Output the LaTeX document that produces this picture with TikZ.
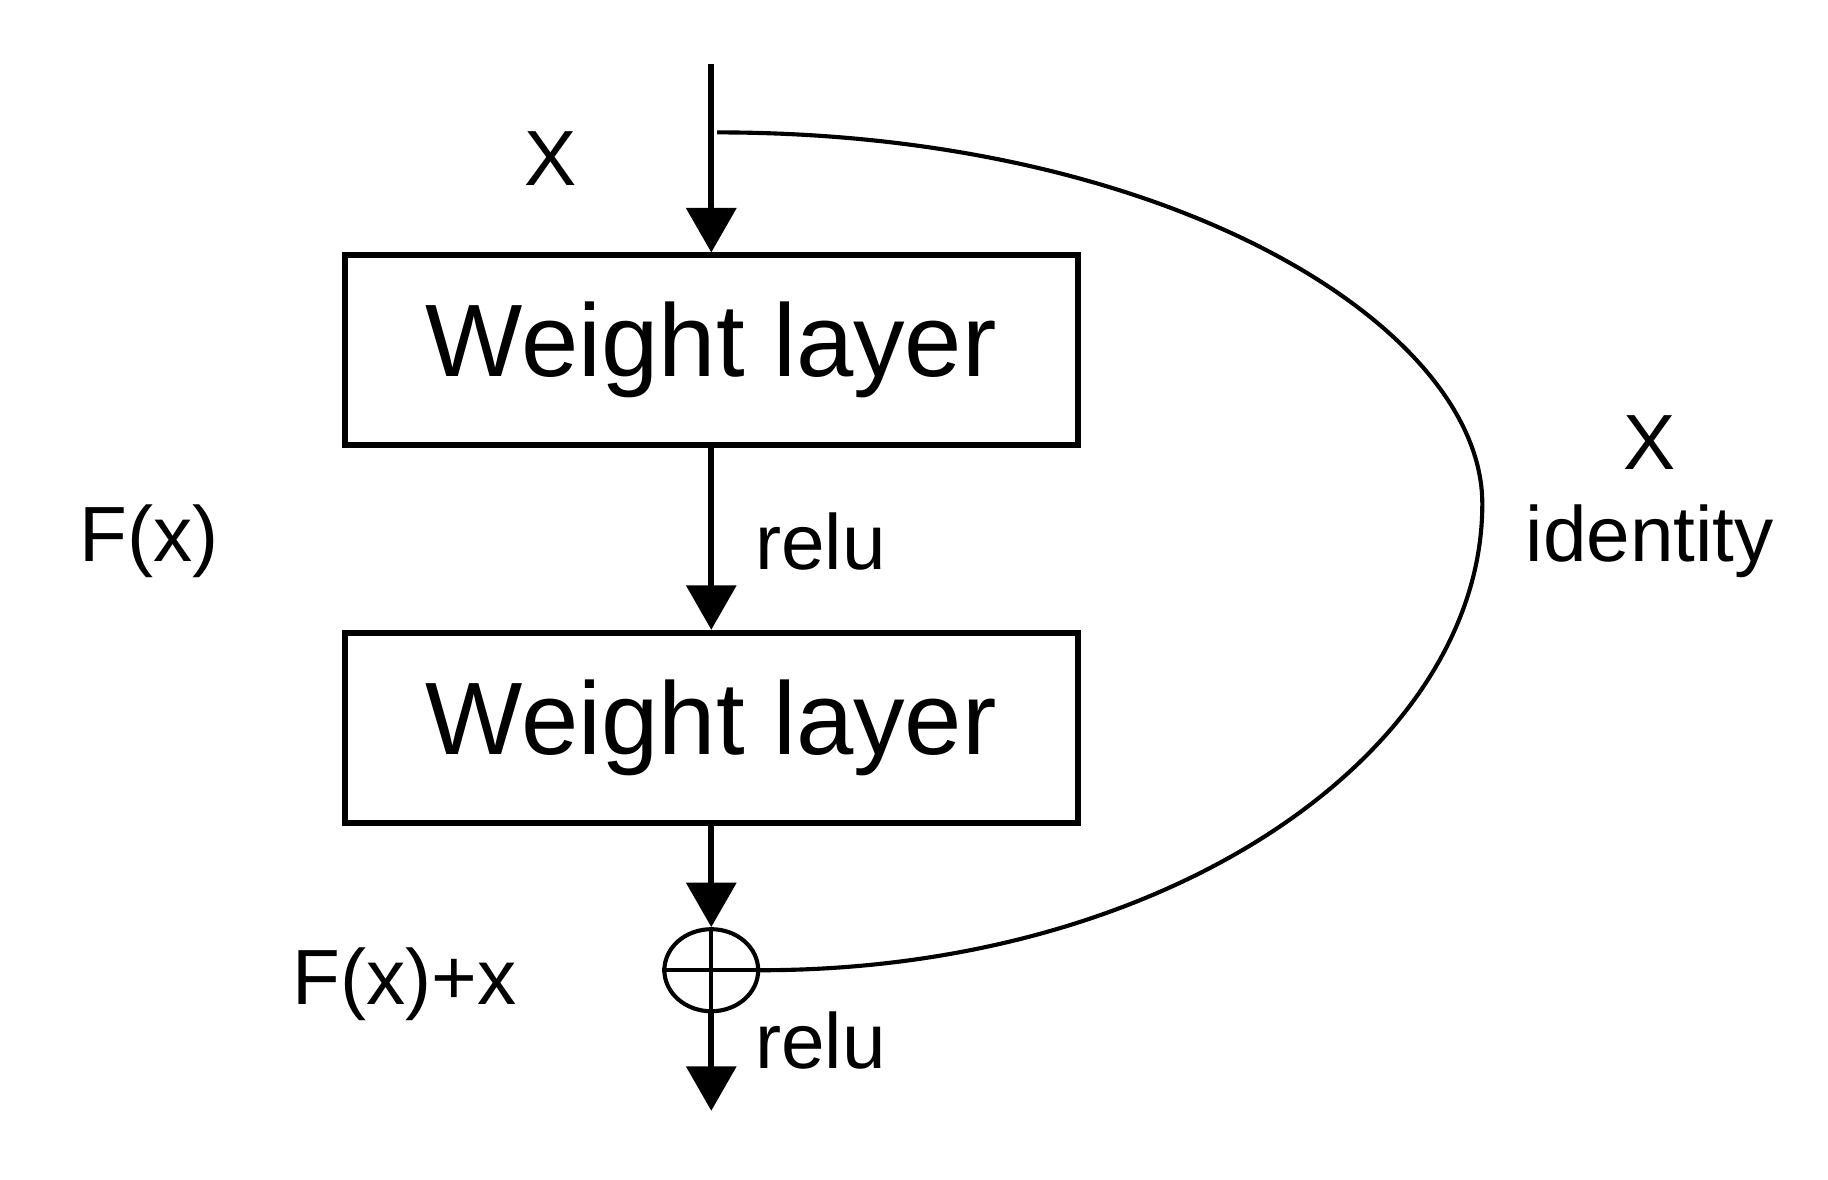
\documentclass[tikz,border=0pt]{standalone}
\usepackage{fontspec}
\setmainfont{Liberation Sans}
\usetikzlibrary{shapes.geometric, arrows.meta, positioning}

\begin{document}
\begin{tikzpicture}[
    x=0.01cm, y=-0.01cm,
    layer/.style={rectangle, draw, line width=1.4pt, minimum width=6.25cm,
                  minimum height=1.62cm, font=\fontsize{25}{28}\selectfont},
    lbl/.style={font=\fontsize{19}{22}\selectfont},
    flow/.style={line width=1.5pt, -{Triangle[length=0.38cm, width=0.42cm]}},
]
\useasboundingbox (0,0) rectangle (1560,1007);

% Main path
\coordinate (top) at (607,55);
\node[layer] (w1) at (607,299) {Weight layer};
\node[layer] (w2) at (607,621) {Weight layer};
\node[ellipse, draw, line width=1pt, minimum width=0.8cm, minimum height=0.7cm,
      inner sep=0pt] (sum) at (607,828) {};
\draw[line width=1pt] (sum.north) -- (sum.south) (sum.west) -- (sum.east);
\coordinate (out) at (607,948);

\draw[flow] (top) -- (w1.north);
\draw[flow] (w1.south) -- (w2.north);
\draw[flow] (w2.south) -- (sum.north);
\draw[flow] (sum.south) -- (out);

% Shortcut
\coordinate (branch) at (612,113);
\draw[line width=1pt] (branch) .. controls (1000,113) and (1265,280) .. (1265,430)
    .. controls (1265,640) and (1000,828) .. (sum.east);

% Labels
\node[lbl] (xin) at (470,135) {X};
\node[lbl, anchor=west] (relu1) at (632,462) {relu};
\node[lbl, anchor=west] (relu2) at (632,888) {relu};
\node[lbl] (fx) at (127,462) {F(x)};
\node[lbl] (fxx) at (345,840) {F(x)+x};
\node[lbl] (xid) at (1408,378) {X};
\node[lbl] (ident) at (1408,462) {identity};
\end{tikzpicture}
\end{document}
